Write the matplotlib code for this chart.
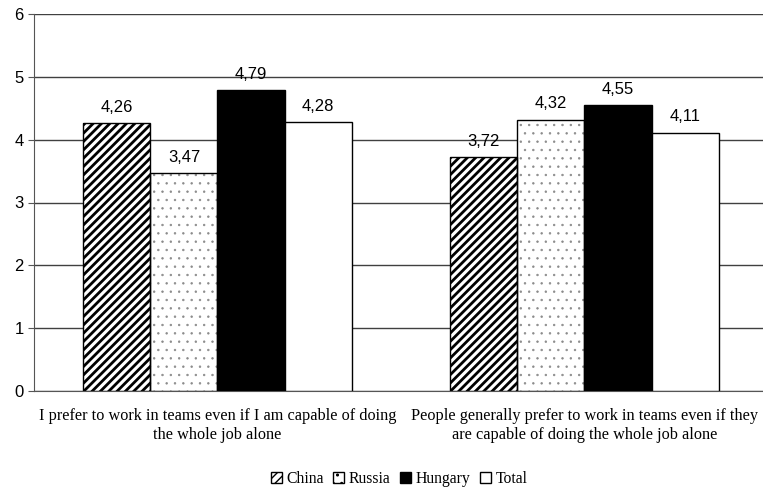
import matplotlib
matplotlib.use("Agg")
import matplotlib.pyplot as plt
import numpy as np
from matplotlib.patches import Patch

categories = ["I prefer to work in teams even if I am capable of doing\nthe whole job alone",
              "People generally prefer to work in teams even if they\nare capable of doing the whole job alone"]
series = ["China", "Russia", "Hungary", "Total"]
values = {
    "China": [4.26, 3.72],
    "Russia": [3.47, 4.32],
    "Hungary": [4.79, 4.55],
    "Total": [4.28, 4.11],
}
yticks = [0, 1, 2, 3, 4, 5, 6]

fig = plt.figure(figsize=(7.63, 4.91), dpi=100)
ax = fig.add_axes([34/763, 1-391/491, 734/763, 377/491])

x = np.arange(len(categories))
w = 0.1826
offsets = [-1.5, -0.5, 0.5, 1.5]

styles = {
    "China": dict(facecolor="white", hatch="////", hatchcol="black", hlw=2.0),
    "Russia": dict(facecolor="white", hatch="..", hatchcol="#8a8a8a", hlw=0.5),
    "Hungary": dict(facecolor="black", hatch=None, hatchcol=None, hlw=1.0),
    "Total": dict(facecolor="white", hatch=None, hatchcol=None, hlw=1.0),
}

for s, off in zip(series, offsets):
    st = styles[s]
    pos = x + off * w
    if st["hatch"]:
        with plt.rc_context({'hatch.linewidth': st["hlw"]}):
            bars = ax.bar(pos, values[s], w, color=st["facecolor"], edgecolor=st["hatchcol"],
                          hatch=st["hatch"], linewidth=0, zorder=2)
            for b in bars:
                if hasattr(b, "set_hatch_linewidth"):
                    b.set_hatch_linewidth(st["hlw"])
        ax.bar(pos, values[s], w, fill=False, edgecolor="black", linewidth=1, zorder=3)
    else:
        ax.bar(pos, values[s], w, color=st["facecolor"], edgecolor="black", linewidth=1, zorder=3)
    for p, v in zip(pos, values[s]):
        ax.annotate(f"{v:.2f}".replace(".", ","), (p, v), xytext=(0, 6), textcoords="offset points",
                    ha="center", va="bottom", fontsize=12, family="Liberation Sans", zorder=4)

ax.set_ylim(0, 6)
ax.set_xlim(-0.5, 1.5)
ax.set_yticks(yticks)
ax.set_yticklabels([str(t) for t in yticks], fontsize=12, family="Liberation Sans")
ax.yaxis.grid(True, color="#404040", linewidth=1)
ax.set_axisbelow(True)
ax.set_xticks(x)
ax.set_xticklabels(categories, fontsize=11.7, family="Liberation Serif", linespacing=1.25)
ax.tick_params(axis='x', length=0, pad=12)
ax.tick_params(axis='y', length=4, color="#555555")
for sp in ["top", "right"]:
    ax.spines[sp].set_visible(False)
ax.spines["left"].set_color("#555555")
ax.spines["bottom"].set_color("#555555")

handles = []
for s in series:
    st = styles[s]
    handles.append(Patch(facecolor=st["facecolor"], edgecolor="black",
                         hatch=st["hatch"], label=s))
with plt.rc_context({'hatch.linewidth': 1.0}):
    leg = fig.legend(handles=handles, loc="center", bbox_to_anchor=(399/763, 1-479/491),
                     ncol=4, frameon=False, prop={"family": "Liberation Serif", "size": 11.3},
                     handlelength=0.7, handleheight=0.7, handletextpad=0.3, columnspacing=0.6)

fig.savefig("out.png", dpi=100)
